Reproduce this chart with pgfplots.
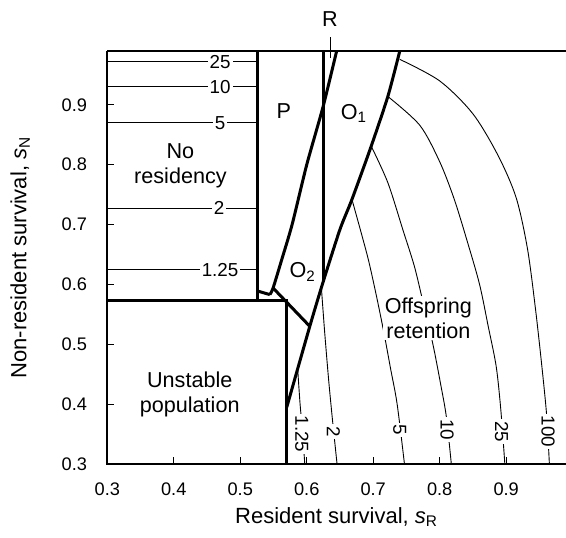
\documentclass[border=0pt]{standalone}
\usepackage{fontspec}
\setmainfont{Liberation Sans}
\usepackage{pgfplots}
\pgfplotsset{compat=1.18}

\begin{document}
\begin{tikzpicture}
\begin{axis}[
  name=ax,
  scale only axis,
  width=229.35pt, height=206.5pt,
  xmin=0.3, xmax=0.99, ymin=0.3, ymax=0.99,
  clip=false,
  axis line style={draw=none},
  xtick={0.3,0.4,0.5,0.6,0.7,0.8,0.9},
  ytick={0.3,0.4,0.5,0.6,0.7,0.8,0.9},
  tick align=inside, tick pos=left,
  major tick length=3.5pt,
  tick style={line width=0.6pt, black},
  /pgf/number format/.cd, fixed, precision=1, fixed zerofill, assume math mode=true,
  /pgfplots/.cd,
  ticklabel style={font=\fontsize{9.1}{10}\selectfont},
  xticklabel style={yshift=-6pt},
  yticklabel style={xshift=-6.6pt},
  xlabel={Resident survival, \textit{s}\textsubscript{R}},
  ylabel={Non-resident survival, \textit{s}\textsubscript{N}},
  label style={font=\fontsize{11}{12}\selectfont},
  xlabel style={at={(axis description cs:0.5,-0.128)}, anchor=center},
  ylabel style={at={(axis description cs:-0.19,0.5)}, anchor=center},
]
  % frame: left, bottom, top (no right edge)
  \draw[line width=0.9pt] (rel axis cs:0,1) -- (rel axis cs:0,0) -- (rel axis cs:1,0);
  \draw[line width=0.8pt] (rel axis cs:0,1) -- (rel axis cs:1,1);

  % thin contours, no-residency region
  \addplot[black, line width=0.45pt] coordinates {(0.3,0.972) (0.526,0.972)};
  \addplot[black, line width=0.45pt] coordinates {(0.3,0.930) (0.526,0.930)};
  \addplot[black, line width=0.45pt] coordinates {(0.3,0.870) (0.526,0.870)};
  \addplot[black, line width=0.45pt] coordinates {(0.3,0.7276) (0.526,0.7276)};
  \addplot[black, line width=0.45pt] coordinates {(0.3,0.6244) (0.526,0.6244)};

  % thin contours, offspring retention region
  \addplot[black, line width=0.45pt, smooth] coordinates {
    (0.740,0.976) (0.800,0.940) (0.850,0.885) (0.888,0.815) (0.915,0.745)
    (0.932,0.660) (0.944,0.560) (0.954,0.460) (0.961,0.380) (0.965,0.300)};
  \addplot[black, line width=0.45pt, smooth] coordinates {
    (0.722,0.914) (0.770,0.866) (0.800,0.805) (0.822,0.742) (0.842,0.670)
    (0.860,0.600) (0.873,0.530) (0.885,0.463) (0.892,0.390) (0.898,0.300)};
  \addplot[black, line width=0.45pt, smooth] coordinates {
    (0.697,0.831) (0.722,0.770) (0.745,0.690) (0.762,0.630) (0.775,0.570)
    (0.790,0.499) (0.802,0.430) (0.810,0.379) (0.8175,0.300)};
  \addplot[black, line width=0.45pt, smooth] coordinates {
    (0.668,0.742) (0.681,0.690) (0.693,0.640) (0.705,0.580) (0.716,0.520)
    (0.726,0.460) (0.736,0.400) (0.747,0.300)};
  \addplot[black, line width=0.45pt, smooth] coordinates {
    (0.622,0.595) (0.627,0.520) (0.633,0.440) (0.6387,0.374) (0.6456,0.300)};
  \addplot[black, line width=0.45pt, smooth] coordinates {
    (0.5865,0.457) (0.590,0.400) (0.594,0.350) (0.597,0.300)};

  % thick region boundaries
  \addplot[black, line width=1.5pt] coordinates {(0.526,0.99) (0.526,0.573)};
  \addplot[black, line width=1.5pt] coordinates {(0.3,0.573) (0.570,0.573) (0.570,0.3)};
  \addplot[black, line width=1.5pt] coordinates {(0.6246,0.99) (0.6246,0.604)};
  \addplot[black, line width=1.5pt, smooth, tension=0.4] coordinates {
    (0.645,0.99) (0.6246,0.897) (0.600,0.800) (0.578,0.700) (0.562,0.640)
    (0.5494,0.594) (0.5445,0.583)};
  \addplot[black, line width=1.5pt] coordinates {(0.5445,0.583) (0.526,0.589)};
  \addplot[black, line width=1.5pt] coordinates {(0.5494,0.594) (0.6046,0.530)};
  \addplot[black, line width=1.5pt, smooth, tension=0.4] coordinates {
    (0.740,0.99) (0.722,0.914) (0.697,0.831) (0.668,0.742) (0.650,0.692)
    (0.6246,0.604) (0.6046,0.530) (0.570,0.395)};

  % contour labels
  \begin{scope}[every node/.style={fill=white, inner sep=1pt, font=\fontsize{9.4}{10}\selectfont}]
    \node at (axis cs:0.4696,0.972) {25};
    \node at (axis cs:0.4696,0.930) {10};
    \node at (axis cs:0.4696,0.870) {5};
    \node at (axis cs:0.4680,0.7276) {2};
    \node at (axis cs:0.4696,0.6244) {1.25};
    \node[rotate=-90] at (axis cs:0.5925,0.350) {1.25};
    \node[rotate=-90] at (axis cs:0.6400,0.354) {2};
    \node[rotate=-90] at (axis cs:0.7400,0.357) {5};
    \node[rotate=-90] at (axis cs:0.8110,0.357) {10};
    \node[rotate=-90] at (axis cs:0.8930,0.354) {25};
    \node[rotate=-90] at (axis cs:0.9630,0.354) {100};
  \end{scope}

  % region labels
  \begin{scope}[every node/.style={font=\fontsize{10.8}{12.5}\selectfont, align=center}]
    \node at (axis cs:0.410,0.7975) {No\\residency};
    \node at (axis cs:0.424,0.417) {Unstable\\population};
    \node[fill=white, inner sep=1pt] at (axis cs:0.783,0.544) {Offspring\\retention};
    \node at (axis cs:0.5655,0.889) {P};
    \node at (axis cs:0.671,0.886) {O\textsubscript{1}};
    \node at (axis cs:0.594,0.621) {O\textsubscript{2}};
    \node at (axis cs:0.635,1.0425) {R};
  \end{scope}
  \draw[line width=0.5pt] (axis cs:0.635,0.979) -- (axis cs:0.635,1.014);
\end{axis}
\pgfresetboundingbox
\path[use as bounding box] ([xshift=-53.65pt,yshift=-37pt]ax.south west) rectangle ([yshift=25.5pt]ax.north east);
\end{tikzpicture}
\end{document}
